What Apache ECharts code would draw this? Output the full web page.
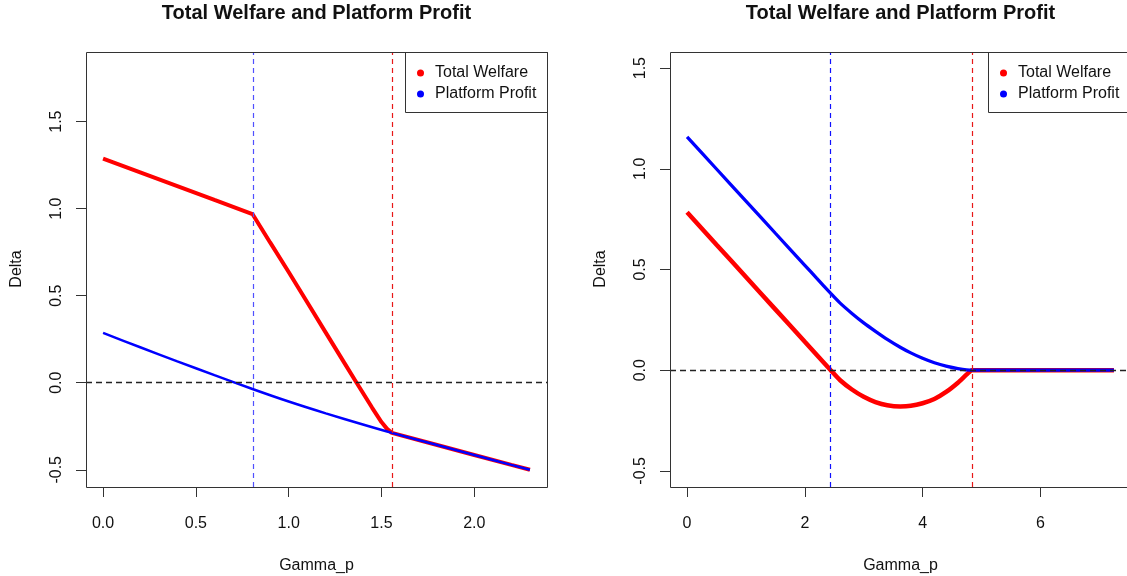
<!DOCTYPE html>
<html><head><meta charset="utf-8">
<script src="https://cdn.jsdelivr.net/npm/echarts@6/dist/echarts.min.js"></script>
<style>html,body{margin:0;padding:0;background:#fff}#c{width:1127px;height:576px}</style>
</head><body><div id="c"></div>
<script>
const titleText = 'Total Welfare and Platform Profit';
const xName = 'Gamma_p';
const yName = 'Delta';
const seriesNames = ['Total Welfare', 'Platform Profit'];

// Left panel data [Gamma_p, Delta]
const leftWelfare = [[0,1.288],[0.2,1.209],[0.4,1.130],[0.6,1.050],[0.805,0.969],[0.9,0.806],[1.0,0.636],[1.1,0.462],[1.2,0.288],[1.3,0.114],[1.366,0.0],[1.45,-0.144],[1.5,-0.226],[1.53,-0.265],[1.556,-0.288],[1.8,-0.358],[2.0,-0.415],[2.2,-0.472],[2.3,-0.5]];
const leftProfit = [[0,0.286],[0.2,0.204],[0.4,0.123],[0.6,0.044],[0.805,-0.036],[1.0,-0.108],[1.2,-0.176],[1.4,-0.240],[1.556,-0.288],[1.8,-0.358],[2.0,-0.415],[2.2,-0.472],[2.3,-0.5]];
const leftVLines = [0.805, 1.556];

// Right panel data
const rightWelfare = [[0,0.784],[0.5,0.623],[1.0,0.463],[1.5,0.302],[2.0,0.141],[2.2,0.077],[2.44,0.0],[2.6,-0.05],[2.8,-0.096],[3.0,-0.132],[3.2,-0.158],[3.4,-0.174],[3.62,-0.18],[3.8,-0.177],[4.0,-0.164],[4.2,-0.143],[4.4,-0.108],[4.6,-0.062],[4.75,-0.021],[4.84,0],[5.5,0],[6.0,0],[6.5,0],[7.25,0]];
const rightProfit = [[0,1.159],[0.5,0.999],[1.0,0.840],[1.5,0.680],[2.0,0.521],[2.2,0.457],[2.44,0.381],[2.6,0.333],[2.8,0.282],[3.0,0.235],[3.2,0.193],[3.4,0.153],[3.62,0.114],[3.8,0.086],[4.0,0.059],[4.2,0.037],[4.4,0.020],[4.6,0.008],[4.84,0],[5.5,0],[6.0,0],[6.5,0],[7.25,0]];
const rightVLines = [2.44, 4.84];

// Ticks
const leftXTicks = [0, 0.5, 1.0, 1.5, 2.0];
const rightXTicks = [0, 2, 4, 6];
const yTicks = [-0.5, 0, 0.5, 1.0, 1.5];

const FONT = "'Liberation Sans', Arial, Helvetica, sans-serif";
const TXT = '#111';
const AX = '#333';

// right panel is wider than the window (cropped in the reference)
const PX_PER_UNIT_R = 461 / 7.83;
const grids = [
  {left: 86, top: 52, width: 461, height: 435},
  {left: 670, top: 52, width: 457, height: 435}
];
const xRanges = [[-0.092, 2.392], [-0.29, -0.29 + 457 / PX_PER_UNIT_R]];
const yRanges = [[-0.599, 1.90], [-0.58, 1.58]];

function xAxisFor(i, ticks, fmt) {
  return {
    type: 'value', gridIndex: i, min: xRanges[i][0], max: xRanges[i][1],
    axisLine: {show: false, onZero: false}, splitLine: {show: false},
    axisTick: {show: true, length: 10, customValues: ticks, lineStyle: {color: AX, width: 1}},
    axisLabel: {show: true, customValues: ticks, margin: 29, formatter: fmt,
      fontFamily: FONT, fontSize: 16, color: TXT}
  };
}
function yAxisFor(i) {
  return {
    type: 'value', gridIndex: i, min: yRanges[i][0], max: yRanges[i][1],
    axisLine: {show: false, onZero: false}, splitLine: {show: false},
    axisTick: {show: true, length: 10, customValues: yTicks, lineStyle: {color: AX, width: 1}},
    axisLabel: {show: true, customValues: yTicks, rotate: 90, margin: 21,
      formatter: v => v.toFixed(1), fontFamily: FONT, fontSize: 16, color: TXT}
  };
}
function vmark(vals, colors) {
  return {
    silent: true, symbol: 'none', animation: false,
    label: {show: false},
    data: [
      {xAxis: vals[0], lineStyle: {color: colors[0], type: [5, 4], width: 1.2}},
      {xAxis: vals[1], lineStyle: {color: colors[1], type: [5, 4], width: 1.2}},
      {yAxis: 0, lineStyle: {color: '#222', type: [6, 4], width: 1.3}}
    ]
  };
}
function lineSeries(name, i, data, color, width, mark, smooth) {
  const s = {
    name: name, type: 'line', xAxisIndex: i, yAxisIndex: i, data: data,
    showSymbol: false, symbol: 'circle', smooth: smooth || false, animation: false,
    lineStyle: {color: color, width: width}, itemStyle: {color: color}
  };
  if (mark) s.markLine = mark;
  return s;
}
function legendAt(left) {
  return {
    orient: 'vertical', left: left, top: 52, data: seriesNames,
    icon: 'circle', itemWidth: 7, itemHeight: 7, itemGap: 5,
    padding: [13, 0, 10, 12], borderWidth: 0,
    selectedMode: false,
    textStyle: {fontFamily: FONT, fontSize: 16, color: TXT, padding: [0, 0, 0, 6]}
  };
}
function boxRect(x, y, w, h) {
  return {type: 'rect', silent: true, z: 10, shape: {x: x + 0.5, y: y + 0.5, width: w, height: h},
    style: {fill: 'none', stroke: AX, lineWidth: 1}};
}
function txt(x, y, text, font, rot) {
  return {type: 'text', x: x, y: y, rotation: rot || 0,
    style: {text: text, align: 'center', verticalAlign: 'middle', font: font, fill: TXT}};
}

const chart = echarts.init(document.getElementById('c'), null, {renderer: 'canvas'});
chart.setOption({
  backgroundColor: '#fff',
  animation: false,
  grid: grids.map(g => Object.assign({show: false}, g)),
  xAxis: [
    xAxisFor(0, leftXTicks, v => v.toFixed(1)),
    xAxisFor(1, rightXTicks, v => String(Math.round(v)))
  ],
  yAxis: [yAxisFor(0), yAxisFor(1)],
  legend: [legendAt(405), legendAt(988)],
  series: [
    lineSeries(seriesNames[0], 0, leftWelfare, '#ff0000', 4, vmark(leftVLines, ['#5050ff', '#e81818'])),
    lineSeries(seriesNames[1], 0, leftProfit, '#0000ff', 2.5, null, 0.3),
    lineSeries(seriesNames[0], 1, rightWelfare, '#ff0000', 4.5, vmark(rightVLines, ['#1010ff', '#e81818']), 0.2),
    lineSeries(seriesNames[1], 1, rightProfit, '#0000ff', 3.3, null, 0.2)
  ],
  graphic: [
    boxRect(86, 52, 461, 435),
    boxRect(670, 52, 461, 435),
    boxRect(405, 52, 142, 60),
    boxRect(988, 52, 143, 60),
    txt(316.5, 13, titleText, "bold 20px " + FONT),
    txt(900.5, 13, titleText, "bold 20px " + FONT),
    txt(316.5, 566, xName, "16px " + FONT),
    txt(900.5, 566, xName, "16px " + FONT),
    txt(17, 269, yName, "16px " + FONT, Math.PI / 2),
    txt(601, 269, yName, "16px " + FONT, Math.PI / 2)
  ]
});
</script></body></html>
